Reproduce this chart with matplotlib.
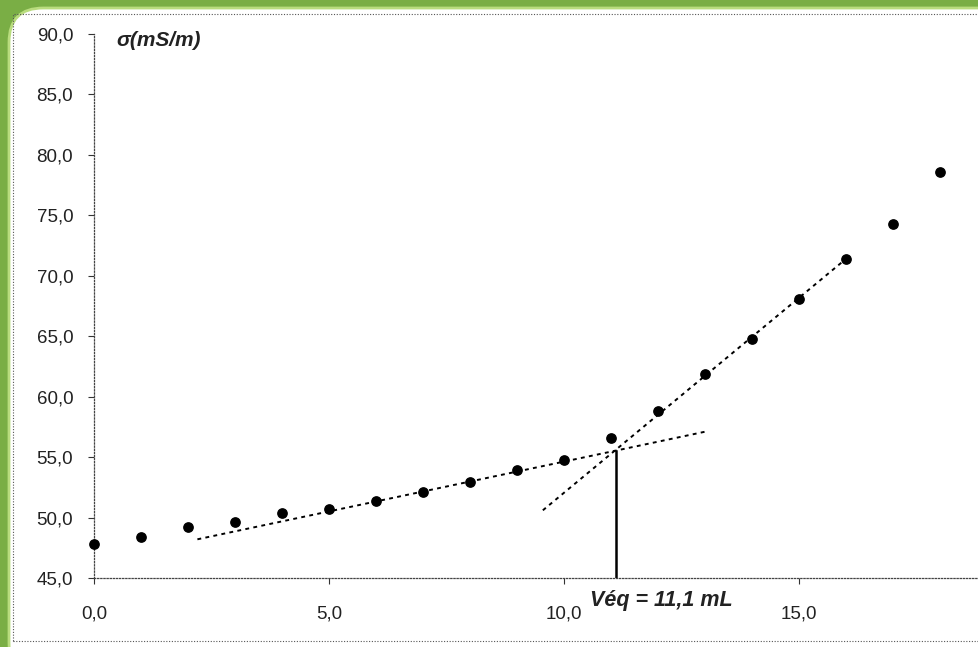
import matplotlib.pyplot as plt
from matplotlib.patches import FancyBboxPatch, Rectangle
from matplotlib.ticker import FuncFormatter
import numpy as np

plt.rcParams['font.family'] = ['Liberation Sans', 'DejaVu Sans']

# volume versé (mL) et conductivité (mS/m)
V = [0, 1, 2, 3, 4, 5, 6, 7, 8, 9, 10, 11, 12, 13, 14, 15, 16, 17, 18]
sigma = [47.8, 48.4, 49.2, 49.6, 50.4, 50.7, 51.4, 52.1, 52.9, 53.9,
         54.8, 56.6, 58.8, 61.9, 64.8, 68.1, 71.4, 74.3, 78.6]

# droites tracées à la main (extrémités)
tan1_x = [2.2, 13.0]
tan1_y = [48.2, 57.1]
tan2_x = [9.55, 16.0]
tan2_y = [50.6, 71.4]
V_eq = 11.1
sigma_eq = 55.5

W, H = 979, 647
fig = plt.figure(figsize=(W / 100, H / 100), dpi=100)
fig.patch.set_facecolor('#7aae45')

# fond blanc arrondi (cadre vert de la diapo)
bg = FancyBboxPatch((9 / W, -30 / H), (W + 25) / W, (H - 8 + 30) / H,
                    boxstyle='round,pad=0,rounding_size=0.035',
                    transform=fig.transFigure, facecolor='white',
                    edgecolor='#b9dc7e', linewidth=2, mutation_aspect=W / H,
                    zorder=-10)
fig.patches.append(bg)

# cadre pointillé extérieur
frame = Rectangle((13 / W, 6 / H), (W - 13) / W + 0.02, (H - 20) / H,
                  transform=fig.transFigure, fill=False, edgecolor='#555555',
                  linestyle=(0, (1, 1.5)), linewidth=0.8, zorder=-9)
fig.patches.append(frame)

ax = fig.add_axes([94 / W, 69 / H, (W - 94) / W, (613 - 69) / H])
ax.set_facecolor('none')

ax.scatter(V, sigma, s=45, color='black', zorder=3, clip_on=False)
ax.plot(tan1_x, tan1_y, color='black', linestyle=(0, (2, 2.2)), linewidth=1.4)
ax.plot(tan2_x, tan2_y, color='black', linestyle=(0, (2, 2.2)), linewidth=1.4)
ax.plot([V_eq, V_eq], [45, sigma_eq], color='black', linewidth=1.8)

ax.set_xlim(0, (W - 94) / 47)
ax.set_ylim(45, 90)
ax.set_xticks([0, 5, 10, 15])
ax.set_yticks(np.arange(45, 91, 5))
fmt = FuncFormatter(lambda v, p: f'{v:.1f}'.replace('.', ','))
ax.xaxis.set_major_formatter(fmt)
ax.yaxis.set_major_formatter(fmt)
ax.tick_params(axis='both', direction='out', length=4, width=0.8,
               colors='#333333', labelsize=13.5, labelcolor='#222222')
ax.tick_params(axis='x', pad=16)
ax.tick_params(axis='y', pad=11)

for side in ['top', 'right']:
    ax.spines[side].set_visible(False)
for side in ['left', 'bottom']:
    ax.spines[side].set_linestyle((0, (1, 1.5)))
    ax.spines[side].set_linewidth(0.9)
    ax.spines[side].set_color('#444444')

ax.text(0.47, 89.5, 'σ(mS/m)', fontsize=15, fontstyle='italic',
        fontweight='bold', va='center', ha='left', color='#222222')
ax.text(10.55, 43.1, 'Véq = 11,1 mL', fontsize=15.5, fontstyle='italic',
        fontweight='bold', va='center', ha='left', color='#222222',
        clip_on=False)

fig.savefig('out.png', dpi=100, facecolor=fig.get_facecolor())
